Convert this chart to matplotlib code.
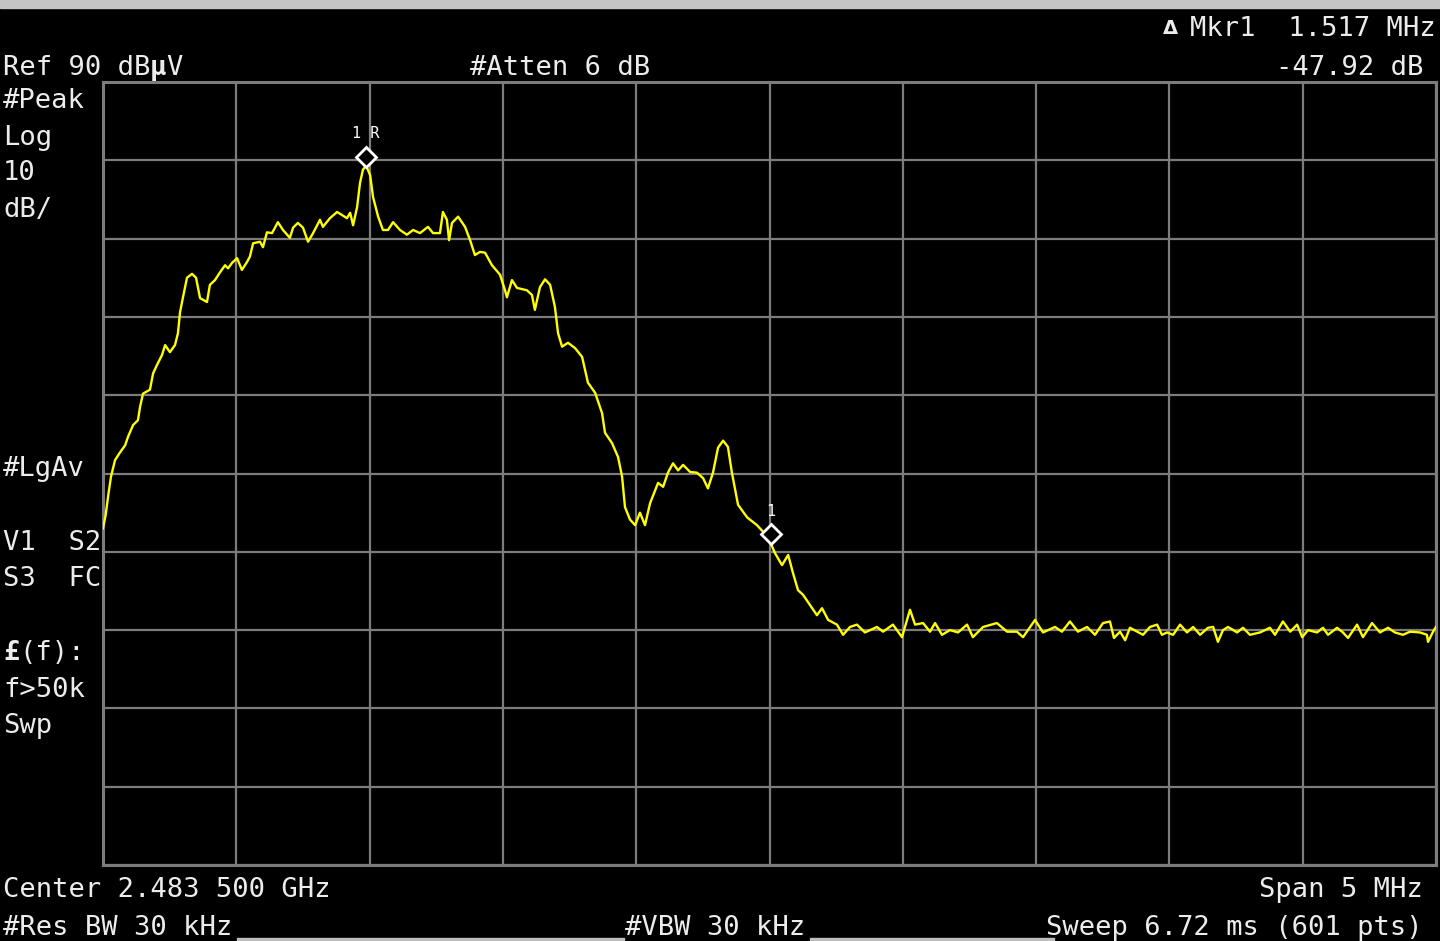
import numpy as np
import matplotlib.pyplot as plt
from matplotlib.patches import Rectangle
from matplotlib.transforms import offset_copy

# analyzer settings
center_mhz = 2483.5
span_mhz = 5.0
ref_level = 90
db_per_div = 10
mkr1_delta_mhz = 1.517

# trace: offset from start frequency (MHz), level (dBuV)
freq_offset_mhz = [
    0.000, 0.010, 0.020, 0.030, 0.045, 0.064, 0.083, 0.094, 0.113, 0.131,
    0.139, 0.150, 0.176, 0.188, 0.203, 0.221, 0.233, 0.251, 0.270, 0.281,
    0.289, 0.300, 0.315, 0.334, 0.349, 0.364, 0.390, 0.401, 0.420, 0.439,
    0.458, 0.469, 0.484, 0.503, 0.521, 0.540, 0.551, 0.563, 0.589, 0.600,
    0.615, 0.634, 0.656, 0.675, 0.701, 0.713, 0.731, 0.750, 0.769, 0.788,
    0.814, 0.825, 0.851, 0.878, 0.897, 0.915, 0.927, 0.938, 0.953, 0.964,
    0.975, 0.987, 1.002, 1.013, 1.032, 1.050, 1.069, 1.088, 1.114, 1.140,
    1.163, 1.189, 1.219, 1.238, 1.264, 1.275, 1.290, 1.298, 1.309, 1.332,
    1.358, 1.377, 1.395, 1.414, 1.433, 1.459, 1.489, 1.508, 1.515, 1.534,
    1.553, 1.590, 1.609, 1.620, 1.639, 1.658, 1.677, 1.695, 1.707, 1.722,
    1.744, 1.771, 1.797, 1.819, 1.846, 1.872, 1.883, 1.909, 1.932, 1.947,
    1.958, 1.977, 1.996, 2.014, 2.033, 2.052, 2.082, 2.101, 2.119, 2.138,
    2.157, 2.176, 2.202, 2.228, 2.251, 2.269, 2.288, 2.307, 2.326, 2.344,
    2.359, 2.382, 2.416, 2.453, 2.494, 2.521, 2.547, 2.570, 2.588, 2.607,
    2.626, 2.652, 2.678, 2.697, 2.720, 2.753, 2.776, 2.802, 2.828, 2.858,
    2.903, 2.926, 2.963, 2.997, 3.027, 3.046, 3.076, 3.102, 3.121, 3.147,
    3.177, 3.207, 3.241, 3.263, 3.301, 3.353, 3.391, 3.428, 3.451, 3.496,
    3.526, 3.571, 3.597, 3.627, 3.657, 3.691, 3.721, 3.751, 3.777, 3.792,
    3.815, 3.834, 3.852, 3.879, 3.901, 3.927, 3.954, 3.972, 3.991, 4.014,
    4.040, 4.066, 4.089, 4.115, 4.145, 4.164, 4.182, 4.201, 4.220, 4.254,
    4.276, 4.302, 4.340, 4.377, 4.396, 4.426, 4.453, 4.479, 4.498, 4.520,
    4.554, 4.576, 4.595, 4.629, 4.651, 4.670, 4.704, 4.726, 4.760, 4.790,
    4.820, 4.846, 4.876, 4.903, 4.940, 4.966, 4.970, 4.989, 5.000,
]
level_dbuv = [
    33.0, 34.7, 37.3, 39.6, 41.7, 42.7, 43.6, 44.7, 46.2, 46.8,
    48.5, 50.2, 50.7, 52.8, 53.9, 55.1, 56.4, 55.5, 56.4, 57.9,
    60.6, 62.5, 65.0, 65.5, 65.0, 62.4, 61.9, 64.1, 64.7, 65.7,
    66.6, 66.2, 66.9, 67.5, 66.0, 67.0, 67.7, 69.4, 69.6, 68.9,
    70.8, 70.7, 72.1, 71.1, 70.1, 71.4, 72.0, 71.4, 69.6, 70.7,
    72.4, 71.5, 72.6, 73.4, 73.0, 72.6, 73.3, 71.7, 74.0, 77.1,
    78.8, 79.3, 78.1, 75.3, 72.8, 71.1, 71.1, 72.1, 71.1, 70.5,
    71.1, 70.7, 71.5, 70.7, 70.7, 73.4, 72.4, 69.8, 72.0, 72.8,
    71.5, 69.8, 67.9, 68.3, 68.2, 66.6, 65.4, 63.4, 62.5, 64.7,
    63.7, 63.4, 62.8, 60.9, 63.8, 64.8, 64.1, 61.3, 57.9, 56.2,
    56.7, 56.0, 54.9, 51.6, 50.3, 47.7, 45.2, 43.9, 42.1, 39.6,
    35.7, 34.1, 33.4, 35.0, 33.4, 36.2, 38.8, 38.3, 40.1, 41.3,
    40.4, 41.1, 40.2, 40.1, 39.4, 38.1, 40.1, 43.3, 44.2, 43.4,
    40.1, 36.0, 34.4, 33.4, 31.9, 29.8, 28.3, 29.6, 27.3, 25.1,
    24.5, 23.2, 21.9, 22.8, 21.3, 20.7, 19.4, 20.4, 20.7, 19.7,
    20.4, 19.8, 20.7, 19.1, 22.6, 20.7, 20.9, 19.8, 20.9, 19.4,
    20.0, 19.7, 20.7, 19.1, 20.4, 20.9, 19.8, 19.8, 19.1, 21.3,
    19.7, 20.4, 19.8, 21.1, 19.8, 20.4, 19.4, 20.9, 21.1, 19.0,
    19.8, 18.7, 20.3, 19.8, 19.4, 20.4, 20.7, 19.4, 19.7, 19.4,
    20.7, 19.7, 20.4, 19.4, 20.3, 20.4, 18.5, 20.0, 20.4, 19.7,
    20.3, 19.4, 19.7, 20.3, 19.4, 21.1, 19.8, 20.7, 19.1, 20.0,
    19.7, 20.3, 19.4, 20.3, 19.7, 19.0, 20.7, 19.1, 20.9, 19.7,
    20.3, 19.7, 19.4, 19.8, 19.7, 19.4, 18.5, 19.8, 20.4,
]

W, H = 1440, 941
fig = plt.figure(figsize=(W / 100, H / 100), dpi=100, facecolor='black')
ax = fig.add_axes([103 / W, 1 - 865 / H, 1333 / W, 783 / H], facecolor='black')

f_start = center_mhz - span_mhz / 2
freq = f_start + np.array(freq_offset_mhz)
level = np.array(level_dbuv)
ax.plot(freq, level, color='#ffff00', lw=1.7, zorder=3)

ax.set_xlim(f_start, f_start + span_mhz)
ax.set_ylim(ref_level - 10 * db_per_div, ref_level)
ax.set_xticks(np.linspace(f_start, f_start + span_mhz, 11))
ax.set_yticks(np.arange(ref_level - 10 * db_per_div, ref_level + 1, db_per_div))
ax.tick_params(length=0, labelbottom=False, labelleft=False)
ax.grid(True, color='#7c7c7c', lw=1.6)
for s in ax.spines.values():
    s.set_color('#7c7c7c')
    s.set_linewidth(2.2)

# markers: reference at peak, marker 1 at delta
i_pk = int(np.argmax(level))
f_ref, l_ref = freq[i_pk], level[i_pk]
f_m1 = f_ref + mkr1_delta_mhz
l_m1 = np.interp(f_m1, freq, level)
dia = offset_copy(ax.transData, fig=fig, x=0, y=9, units='dots')
lab = offset_copy(ax.transData, fig=fig, x=0, y=32, units='dots')
for f, l, t in [(f_ref, l_ref, '1 R'), (f_m1, l_m1, '1')]:
    ax.plot(f, l, marker='D', ms=10, mfc='black', mec='white', mew=2,
            transform=dia, zorder=4, clip_on=False)
    ax.text(f, l, t, transform=lab, color='white', fontsize=11,
            family='DejaVu Sans Mono', ha='center', va='center')

# screen annotations
mono = 'DejaVu Sans Mono'
fs = 19.5
col = '#ececec'


def label(x, y, s, ha='left', **kw):
    fig.text(x / W, 1 - y / H, s, ha=ha, va='baseline', color=col,
             fontsize=kw.pop('fontsize', fs), family=kw.pop('family', mono), **kw)


label(3, 75, 'Ref 90 dB')
label(150, 75, 'µ', fontweight='bold')
label(166, 75, 'V')
label(470, 75, '#Atten 6 dB')
label(1163, 34, 'Δ', fontsize=14, fontweight='bold', family='DejaVu Sans')
label(1190, 36, 'Mkr1  1.517 MHz')
label(1423, 75, '-47.92 dB', ha='right')

left_col = [(108, '#Peak'), (145, 'Log'), (180, '10'), (217, 'dB/'),
            (476, '#LgAv'), (550, 'V1  S2'), (586, 'S3  FC'),
            (697, 'f>50k'), (733, 'Swp')]
for y, s in left_col:
    label(3, y, s)
label(3, 660, '£', fontweight='bold')
label(19, 660, '(f):')

label(3, 897, 'Center 2.483 500 GHz')
label(1423, 897, 'Span 5 MHz', ha='right')
label(3, 935, '#Res BW 30 kHz')
label(625, 935, '#VBW 30 kHz')
label(1423, 935, 'Sweep 6.72 ms (601 pts)', ha='right')

# window frame bits
fig.patches.append(Rectangle((0, 1 - 8 / H), 1, 8 / H, transform=fig.transFigure,
                             color='#c4c4c4', zorder=0))
for x0, x1 in [(237, 624), (810, 1054)]:
    fig.patches.append(Rectangle((x0 / W, 0), (x1 - x0) / W, 3 / H,
                                 transform=fig.transFigure, color='#bdbdbd'))

fig.savefig('out.png', dpi=100, facecolor='black')
